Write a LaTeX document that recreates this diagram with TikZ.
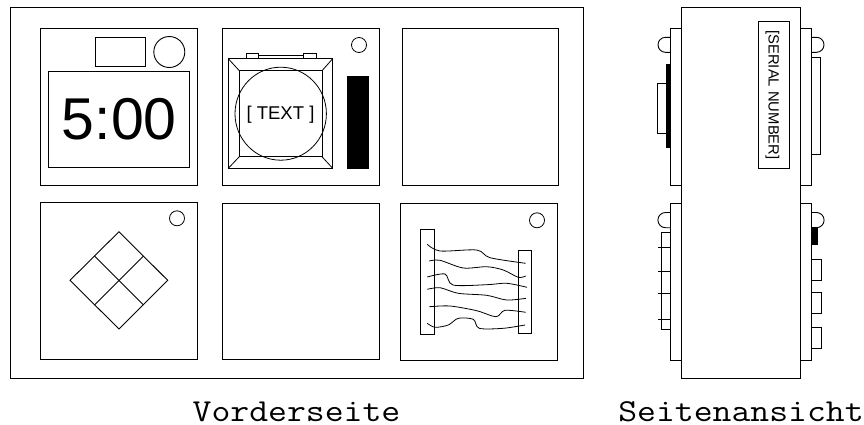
\documentclass[tikz,border=0pt]{standalone}
\usepackage{fontspec}
\setmainfont{Liberation Sans}
\tikzset{
  part/.style={line width=0.9pt},
  thinpart/.style={line width=0.8pt},
  solidpart/.style={fill=black,draw=none},
  caption/.style={font=\ttfamily\fontsize{32}{34}\selectfont,inner sep=0pt,anchor=base,transform shape,xscale=1.145},
}
\begin{document}
\begin{tikzpicture}[x=1pt,y=-1pt]
\useasboundingbox (0,0) rectangle (864,424);

% Drawing front plate
\draw [part] (10.5,7) rectangle (583,378);
\draw [part] (40.7,28.3) rectangle (197.3,185.3);
\draw [part] (222.7,28.3) rectangle (379,185.3);
\draw [part] (402,28.3) rectangle (558,185.3);
\draw [part] (40.7,202.5) rectangle (197.3,359);
\draw [part] (222.7,203) rectangle (379,359.5);
\draw [part] (400.7,203.7) rectangle (557.3,360.5);

% Drawing clock panel
\draw [part] (95.7,37.3) rectangle (145.7,66.7);
\draw [part] (169.3,52) circle (15.5);
\draw [part] (48.3,71.3) rectangle (189.7,167.7);
\node [font=\fontsize{59}{60}\selectfont,inner sep=0pt] (clocktext) at (119.3,119.5) {5:00};

% Drawing switch panel
\draw [thinpart] (228.3,58.7) rectangle (332.7,168.3);
\draw [thinpart] (239.3,70.7) rectangle (322,156.7);
\draw [thinpart] (228.3,58.7) -- (239.3,70.7);
\draw [thinpart] (332.7,58.7) -- (322,70.7);
\draw [thinpart] (228.3,168.3) -- (239.3,156.7);
\draw [thinpart] (332.7,168.3) -- (322,156.7);
\draw [thinpart] (246,53.3) rectangle (258.7,58.7);
\draw [thinpart] (303.3,53.3) rectangle (316.7,58.7);
\draw [thinpart] (258.7,55) rectangle (303.3,58.7);
\draw [thinpart] (280.7,113.7) ellipse (45.7 and 46.5);
\node [font=\fontsize{18.5}{20}\selectfont,inner sep=0pt] (switchtext) at (280.5,114.5) {[ TEXT ]};
\draw [thinpart] (359,45) circle (7.5);
\fill [solidpart] (346.7,76.3) rectangle (369,169);

% Drawing keypad panel
\draw [thinpart] (177,218.3) circle (7.5);
\draw [part] (119,231.7) -- (167.7,280.3) -- (119,329) -- (70,280.3) -- cycle;
\draw [part] (94.5,256) -- (143.4,305);
\draw [part] (143.4,256) -- (94.5,305);

% Drawing wire panel
\draw [thinpart] (537,220.3) circle (7.5);
\draw [part] (420.3,229.7) rectangle (434,334.7);
\draw [part] (518.3,250.3) rectangle (531.7,333.7);
\draw [thinpart] plot [smooth,tension=0.5] coordinates {(427.3,244.3) (440,251) (476.7,250) (490,257.7) (525.7,263.3)};
\draw [thinpart] plot [smooth,tension=0.5] coordinates {(429.3,261) (440,260.3) (463.3,268) (486.7,266.7) (503.3,270) (518.3,277.3) (525.7,276)};
\draw [thinpart] plot [smooth,tension=0.5] coordinates {(427.3,277) (445,274) (453,285) (486.7,284.7) (506.7,283.3) (527,287.3)};
\draw [thinpart] plot [smooth,tension=0.5] coordinates {(427.3,289.3) (440,287.7) (458.3,293.3) (486.7,295.3) (506.7,300) (526,298.3)};
\draw [thinpart] plot [smooth,tension=0.5] coordinates {(429.3,306.7) (450,306) (476.7,310.7) (496,316.7) (505,310.3) (525.7,312.3)};
\draw [thinpart] plot [smooth,tension=0.5] coordinates {(427.3,323.3) (435,327.3) (448.3,325) (458.3,318.3) (473.3,319.3) (479.3,328.3) (503.3,328.3) (525,325)};

% Drawing side view body
\draw [part] (681.3,7.3) rectangle (800.3,378.3);
\draw [part] (758,21.3) rectangle (789.3,168);
\node [font=\fontsize{14.8}{16}\selectfont,inner sep=0pt,rotate=-90] (serialtext) at (772.5,95) {[SERIAL NUMBER]};

% Drawing upper side plates
\draw [part] (681.3,28.3) -- (670.3,28.3) -- (670.3,185) -- (681.3,185);
\draw [part] (800.3,28.3) -- (811.3,28.3) -- (811.3,185) -- (800.3,185);
\draw [part] (670.3,37.3) -- (665.5,37.3) arc (270:90:7.5) -- (670.3,52.3);
\draw [part] (811.3,37.3) -- (816.5,37.3) arc (-90:90:7.5) -- (811.3,52.3);
\fill [solidpart] (665.7,63.7) rectangle (670.3,148.3);
\draw [part] (665.7,83.3) -- (657.7,83.3) -- (657.7,133.7) -- (665.7,133.7);
\draw [part] (811.3,57.3) -- (820.7,57.3) -- (820.7,154.3) -- (811.3,154.3);

% Drawing lower side plates
\draw [part] (681.3,203.3) -- (670.3,203.3) -- (670.3,360.3) -- (681.3,360.3);
\draw [part] (800.3,203.3) -- (811.3,203.3) -- (811.3,360.3) -- (800.3,360.3);
\draw [part] (670.3,212.5) -- (665.5,212.5) arc (270:90:7.6) -- (670.3,227.7);
\draw [part] (811.3,212.5) -- (816.5,212.5) arc (-90:90:7.6) -- (811.3,227.7);
\draw [part] (670.3,232.3) -- (661.3,232.3) -- (661.3,329.3) -- (670.3,329.3);
\draw [part] (658.3,247) -- (670.3,247);
\draw [part] (658.3,271) -- (670.3,271);
\draw [part] (658.3,293.3) -- (670.3,293.3);
\draw [part] (658.3,319.7) -- (670.3,319.7);
\fill [solidpart] (811.3,227.3) rectangle (818,244.7);
\draw [part] (811.3,259.3) -- (821.7,259.3) -- (821.7,280.3) -- (811.3,280.3);
\draw [part] (811.3,292.3) -- (821.7,292.3) -- (821.7,313.3) -- (811.3,313.3);
\draw [part] (811.3,327) -- (821.7,327) -- (821.7,348) -- (811.3,348);

% Marking captions
\node [caption] (frontcaption) at (296.5,421) {Vorderseite};
\node [caption] (sidecaption) at (741,421) {Seitenansicht};
\end{tikzpicture}
\end{document}
